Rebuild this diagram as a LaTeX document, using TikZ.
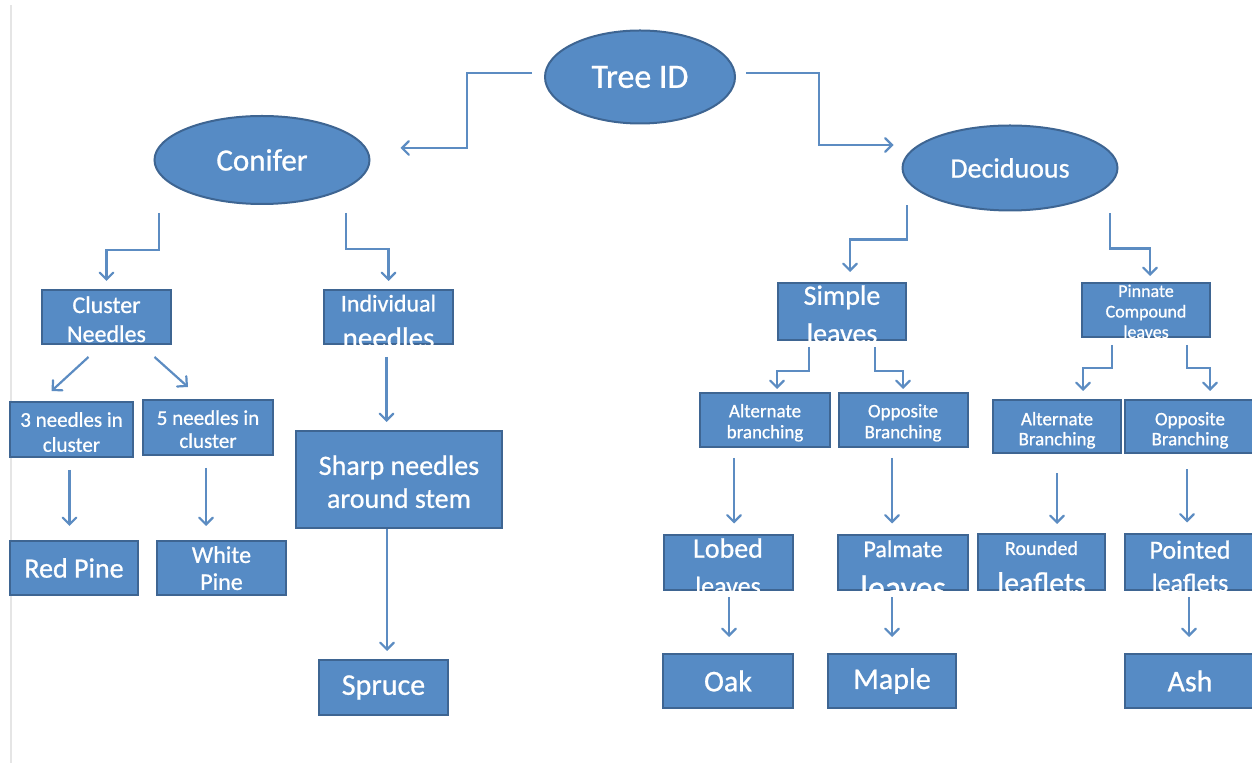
\documentclass[tikz,border=0pt]{standalone}
\usepackage{fontspec}
\setmainfont{Carlito}[FakeBold=0.8]
\usetikzlibrary{arrows,shapes}
\definecolor{boxblue}{RGB}{86,139,197}
\definecolor{boxedge}{RGB}{62,101,146}
\definecolor{arrowblue}{RGB}{92,140,194}
\tikzstyle{oval}=[ellipse,draw=boxedge,fill=boxblue,line width=1pt,text=white,inner sep=0pt]
\tikzstyle{leafbox}=[rectangle,draw=boxedge,fill=boxblue,line width=1pt,text=white,inner sep=0pt,minimum width=64pt,minimum height=27pt]
\tikzstyle{elbow}=[->,>=angle 90,draw=arrowblue,line width=1.1pt]
\newcommand{\twolines}[2][0pt]{\smash{\raisebox{\dimexpr-0.25em+#1\relax}{\begin{tabular}{@{}c@{}}#2\end{tabular}}}}

\begin{document}
\begin{tikzpicture}[x=0.5pt,y=-0.5pt]
\useasboundingbox (0,0) rectangle (1252,763);
\draw[black!10,line width=1pt] (11,5) -- (11,763);
% top level
\node[oval,minimum width=95pt,minimum height=46.5pt,font=\fontsize{17}{20}\selectfont] (tree) at (640,77) {Tree ID};
\node[oval,minimum width=107.5pt,minimum height=44pt,font=\fontsize{15.5}{18}\selectfont] (conifer) at (262,160) {Conifer};
\node[oval,minimum width=107.5pt,minimum height=42.5pt,font=\fontsize{14}{17}\selectfont] (decid) at (1010,168) {Deciduous};
% conifer side
\node[leafbox,minimum width=64.5pt,minimum height=27pt,font=\fontsize{12}{14.5}\selectfont] (cluster) at (106.5,317) {\twolines[-2.35pt]{Cluster\\Needles}};
\node[leafbox,minimum width=64.5pt,minimum height=27pt,font=\fontsize{12}{18}\selectfont] (indiv) at (388.5,317) {\twolines[-2.65pt]{Individual\\{\fontsize{14.5}{18}\selectfont needles}}};
\node[leafbox,minimum width=61.5pt,minimum height=27.5pt,font=\fontsize{10.5}{12.5}\selectfont] (three) at (71.5,429.5) {\twolines[-2.5pt]{3 needles in\\cluster}};
\node[leafbox,minimum width=65pt,minimum height=27.5pt,font=\fontsize{10.5}{11.5}\selectfont] (five) at (208,427.5) {\twolines[-2.25pt]{5 needles in\\cluster}};
\node[leafbox,font=\fontsize{14}{17}\selectfont] (redpine) at (74,568) {Red Pine};
\node[leafbox,minimum width=64.5pt,font=\fontsize{12}{13.5}\selectfont] (whitepine) at (221.5,568) {\twolines[-1.5pt]{White\\Pine}};
\node[leafbox,minimum width=103pt,minimum height=48.5pt,font=\fontsize{14}{16.5}\selectfont] (sharp) at (399,479.5) {\twolines[-2.75pt]{Sharp needles\\around stem}};
\node[leafbox,minimum width=64.5pt,minimum height=27.5pt,font=\fontsize{15}{18}\selectfont] (spruce) at (383.5,687.5) {Spruce};
% deciduous side
\node[leafbox,minimum height=28.5pt,font=\fontsize{14}{19}\selectfont] (simple) at (842,311.5) {\twolines[-2.45pt]{Simple\\leaves}};
\node[leafbox,font=\fontsize{9}{10.25}\selectfont] (pinnate) at (1146,310) {\twolines[-1.7pt]{Pinnate\\Compound\\leaves}};
\node[leafbox,minimum width=65pt,font=\fontsize{9.5}{10.5}\selectfont] (altS) at (765,420) {\twolines[-1.65pt]{Alternate\\branching}};
\node[leafbox,minimum width=64.5pt,font=\fontsize{9.5}{10.5}\selectfont] (oppS) at (903,420) {\twolines[-1.65pt]{Opposite\\Branching}};
\node[leafbox,minimum height=26.5pt,font=\fontsize{9.5}{10}\selectfont] (altP) at (1057,426.5) {\twolines[-2.25pt]{Alternate\\Branching}};
\node[leafbox,minimum width=65pt,minimum height=26.5pt,font=\fontsize{9.5}{10}\selectfont] (oppP) at (1190,426.5) {\twolines[-2.25pt]{Opposite\\Branching}};
\node[leafbox,minimum width=64.5pt,minimum height=27.5pt,font=\fontsize{14}{18.5}\selectfont] (lobed) at (728,562.5) {\twolines[-3.25pt]{Lobed\\{\fontsize{13}{16}\selectfont leaves}}};
\node[leafbox,minimum width=65pt,minimum height=27.5pt,font=\fontsize{12}{21}\selectfont] (palmate) at (903,562.5) {\twolines[-3.6pt]{Palmate\\{\fontsize{17}{20}\selectfont leaves}}};
\node[leafbox,minimum width=63.5pt,minimum height=28pt,font=\fontsize{10}{19}\selectfont] (rounded) at (1041.5,562) {\twolines[-2.2pt]{Rounded\\{\fontsize{15}{17}\selectfont leaflets}}};
\node[leafbox,minimum width=65pt,minimum height=28pt,font=\fontsize{13}{16.5}\selectfont] (pointed) at (1190,562) {\twolines[-3pt]{Pointed\\leaflets}};
\node[leafbox,minimum width=65pt,minimum height=26.5pt,font=\fontsize{15}{18}\selectfont] (oak) at (728,681) {Oak};
\node[leafbox,minimum height=26.5pt,font=\fontsize{15}{18}\selectfont] (maple) at (892,681) {Maple};
\node[leafbox,minimum width=65pt,minimum height=26.5pt,font=\fontsize{15}{18}\selectfont] (ash) at (1190,681) {Ash};
% connectors
\draw[elbow] ([xshift=-6pt,yshift=2pt]tree.west) -- ++(-65,0) |- ([xshift=15pt,yshift=6pt]conifer.east);
\draw[elbow] ([xshift=5pt,yshift=2pt]tree.east) -- ++(73,0) |- ([xshift=-4pt,yshift=11.5pt]decid.west);
\draw[elbow] ([xshift=-51.5pt,yshift=-4pt]conifer.south) -- ++(0,37) -| ([yshift=4pt]cluster.north);
\draw[elbow] ([xshift=42pt,yshift=-4pt]conifer.south) -- ++(0,36) -| ([yshift=4pt]indiv.north);
\draw[elbow] ([xshift=-9pt,yshift=-6pt]cluster.south) -- ([xshift=-10pt,yshift=5pt]three.north);
\draw[elbow] ([xshift=24pt,yshift=-6pt]cluster.south) -- ([xshift=-10pt,yshift=6pt]five.north);
\draw[elbow] ([xshift=-1pt,yshift=-6pt]three.south) -- ([xshift=-1pt,yshift=7pt]three.south |- redpine.north);
\draw[elbow] ([xshift=-1pt,yshift=-6pt]five.south) -- ([xshift=-1pt,yshift=7pt]five.south |- whitepine.north);
\draw[elbow] ([xshift=-1pt,yshift=-6pt]indiv.south) -- ([xshift=-1pt,yshift=4pt]indiv.south |- sharp.north);
\draw[elbow] ([xshift=-6pt]sharp.south) -- ([xshift=-6pt,yshift=4pt]sharp.south |- spruce.north);
\draw[elbow] ([xshift=-51.5pt,yshift=3pt]decid.south) -- ++(0,34) -| ([xshift=4pt,yshift=5pt]simple.north);
\draw[elbow] ([xshift=50pt,yshift=-1pt]decid.south) -- ++(0,35) -| ([xshift=2pt,yshift=3pt]pinnate.north);
\draw[elbow] ([xshift=-16.5pt,yshift=-3pt]simple.south) -- ++(0,24) -| ([xshift=6pt,yshift=1.5pt]altS.north);
\draw[elbow] ([xshift=16.5pt,yshift=-3pt]simple.south) -- ++(0,24) -| ([yshift=1.5pt]oppS.north);
\draw[elbow] ([xshift=-17pt,yshift=-3.5pt]pinnate.south) -- ++(0,23) -| ([xshift=13pt,yshift=4pt]altP.north);
\draw[elbow] ([xshift=20.5pt,yshift=-3.5pt]pinnate.south) -- ++(0,23) -| ([xshift=10pt,yshift=4pt]oppP.north);
\draw[elbow] ([xshift=-15.5pt,yshift=-5pt]altS.south) -- ([xshift=-15.5pt,yshift=5.25pt]altS.south |- lobed.north);
\draw[elbow] ([xshift=-5.5pt,yshift=-5pt]oppS.south) -- ([xshift=-5.5pt,yshift=5.25pt]oppS.south |- palmate.north);
\draw[elbow] ([yshift=-9.75pt]altP.south) -- ([yshift=4.5pt]altP.south |- rounded.north);
\draw[elbow] ([xshift=-1.5pt,yshift=-7.75pt]oppP.south) -- ([xshift=-1.5pt,yshift=5.25pt]oppP.south |- pointed.north);
\draw[elbow] ([xshift=0.5pt,yshift=-3.25pt]lobed.south) -- ([xshift=0.5pt,yshift=8.25pt]lobed.south |- oak.north);
\draw[elbow] ([xshift=-5.5pt,yshift=-3.25pt]palmate.south) -- ([xshift=-5.5pt,yshift=8.25pt]palmate.south |- maple.north);
\draw[elbow] ([xshift=-0.5pt,yshift=-3.25pt]pointed.south) -- ([xshift=-0.5pt,yshift=8.25pt]pointed.south |- ash.north);
\end{tikzpicture}
\end{document}
